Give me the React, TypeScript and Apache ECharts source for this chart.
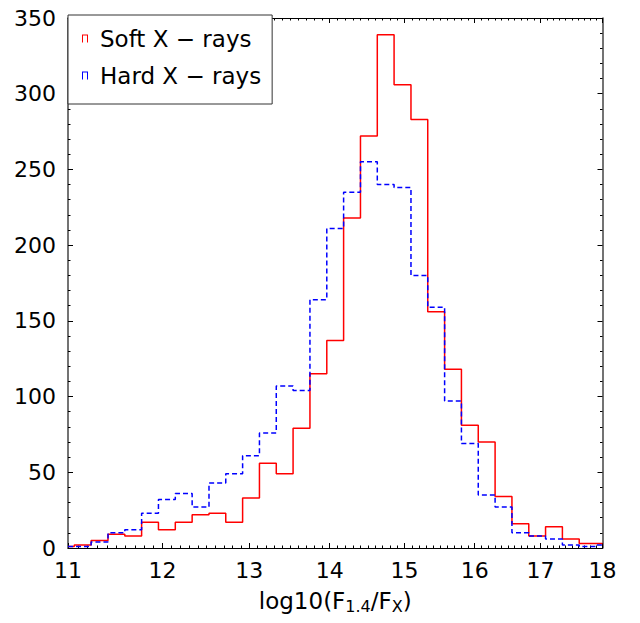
import { useEffect, useRef } from 'react';
import * as echarts from 'echarts';

const xMin = 11;
const xMax = 18;
const xTickValues = [11, 12, 13, 14, 15, 16, 17, 18];
const yTickMax = 350;
const yTickStep = 50;

// interior histogram bin edges (log-uniform bins)
const binEdges = [
  11.064, 11.237, 11.413, 11.591, 11.772, 11.956, 12.143, 12.333, 12.526, 12.721,
  12.920, 13.122, 13.327, 13.535, 13.747, 13.962, 14.180, 14.402, 14.627, 14.855,
  15.088, 15.323, 15.563, 15.806, 16.053, 16.304, 16.559, 16.818, 17.080, 17.347,
  17.618, 17.894,
];

const softCounts = [
  1, 2, 5, 9, 8, 17, 12, 17, 22, 23, 17, 33, 56, 49, 79, 115, 137, 218, 272, 339,
  306, 283, 156, 118, 81, 70, 34, 16, 8, 14, 6, 3, 3,
];
const hardCounts = [
  1, 1, 4, 10, 12, 23, 32, 36, 27, 43, 49, 61, 76, 107, 104, 164, 211, 235, 255, 240,
  238, 180, 159, 97, 69, 35, 27, 10, 8, 6, 2, 1, 2,
];

const seriesNames = ['Soft X − rays', 'Hard X − rays'];
const seriesColors = ['#ff0000', '#0000ff'];

function stepPoints(counts: number[]): number[][] {
  const edges = [xMin, ...binEdges, xMax];
  const pts: number[][] = [];
  counts.forEach((c, i) => {
    pts.push([edges[i], c]);
    pts.push([edges[i + 1], c]);
  });
  return pts;
}

function minorValues(): number[] {
  const out: number[] = [];
  for (let k = xMin; k < xMax; k++) {
    for (let j = 1; j < 10; j++) out.push(Number((k + j / 10).toFixed(1)));
  }
  return out;
}

const FONT = 'DejaVu Sans';

export default function App() {
  const ref = useRef<HTMLDivElement>(null);
  useEffect(() => {
    document.body.style.margin = '0';
    if (!ref.current) return;
    const chart = echarts.init(ref.current, null, { renderer: 'svg' });
    const minor = minorValues();
    const xBase = (position: 'bottom' | 'top', isMinor: boolean, showLine: boolean) => ({
      type: 'log',
      logBase: 10,
      min: xMin,
      max: xMax,
      position,
      gridIndex: 0,
      axisLine: { show: showLine, onZero: false, lineStyle: { color: '#000', width: 1 } },
      axisTick: {
        show: true,
        inside: true,
        length: isMinor ? 2.5 : 5,
        customValues: isMinor ? minor : xTickValues,
        lineStyle: { color: '#000', width: 1 },
      },
      axisLabel: { show: false },
      splitLine: { show: false },
      minorTick: { show: false },
    });
    const xAxes: any[] = [
      {
        ...xBase('bottom', false, true),
        axisLabel: {
          show: true,
          customValues: xTickValues,
          fontSize: 22,
          color: '#000',
          margin: 11,
          fontFamily: FONT,
          formatter: (v: number) => String(Math.round(v)),
        },
        name: 'log10(F{s|1.4}/F{s|X})',
        nameLocation: 'middle',
        nameGap: 39,
        nameTextStyle: {
          fontSize: 23,
          color: '#000',
          fontFamily: FONT,
          lineHeight: 27,
          rich: {
            s: { fontSize: 16, lineHeight: 16, verticalAlign: 'bottom', fontFamily: FONT, color: '#000' },
          },
        },
      },
      xBase('bottom', true, false),
      xBase('top', false, true),
      xBase('top', true, false),
    ];
    const yBase = (position: 'left' | 'right') => ({
      type: 'value',
      min: 0,
      max: yTickMax,
      interval: yTickStep,
      position,
      axisLine: { show: true, onZero: false, lineStyle: { color: '#444', width: 1.5 } },
      axisTick: { show: true, inside: true, length: 5, lineStyle: { color: '#000' } },
      minorTick: { show: true, splitNumber: 5, length: 2.5, lineStyle: { color: '#000' } },
      axisLabel: { show: position === 'left', fontSize: 22, color: '#000', margin: 12, fontFamily: FONT },
      splitLine: { show: false },
    });
    const legendIcon = 'path://M0,0H6V8H5V1H1V8H0Z';
    chart.setOption({
      animation: false,
      textStyle: { fontFamily: FONT },
      grid: { left: 68, right: 37.5, top: 18, bottom: 75, containLabel: false },
      legend: {
        orient: 'vertical',
        left: 68,
        top: 15,
        padding: [10, 11, 15, 14],
        itemGap: 10,
        itemWidth: 6,
        itemHeight: 8,
        backgroundColor: '#fff',
        borderColor: '#333',
        borderWidth: 1,
        borderRadius: 0,
        z: 10,
        selectedMode: false,
        data: [
          { name: seriesNames[0], icon: legendIcon },
          { name: seriesNames[1], icon: legendIcon },
        ],
        textStyle: { fontSize: 23, color: '#000', fontFamily: FONT, lineHeight: 27, padding: [0, 0, 0, 7] },
      },
      xAxis: xAxes,
      yAxis: [yBase('left'), yBase('right')],
      series: [
        {
          name: seriesNames[0],
          type: 'line',
          xAxisIndex: 0,
          yAxisIndex: 0,
          data: stepPoints(softCounts),
          showSymbol: false,
          symbol: 'none',
          color: seriesColors[0],
          lineStyle: { color: seriesColors[0], width: 1.5 },
          clip: true,
        },
        {
          name: seriesNames[1],
          type: 'line',
          xAxisIndex: 0,
          yAxisIndex: 0,
          data: stepPoints(hardCounts),
          showSymbol: false,
          symbol: 'none',
          color: seriesColors[1],
          lineStyle: { color: seriesColors[1], width: 1.5, type: [5, 3] },
          clip: true,
        },
      ],
    });
    return () => chart.dispose();
  }, []);
  return <div ref={ref} style={{ width: 640, height: 623 }} />;
}
